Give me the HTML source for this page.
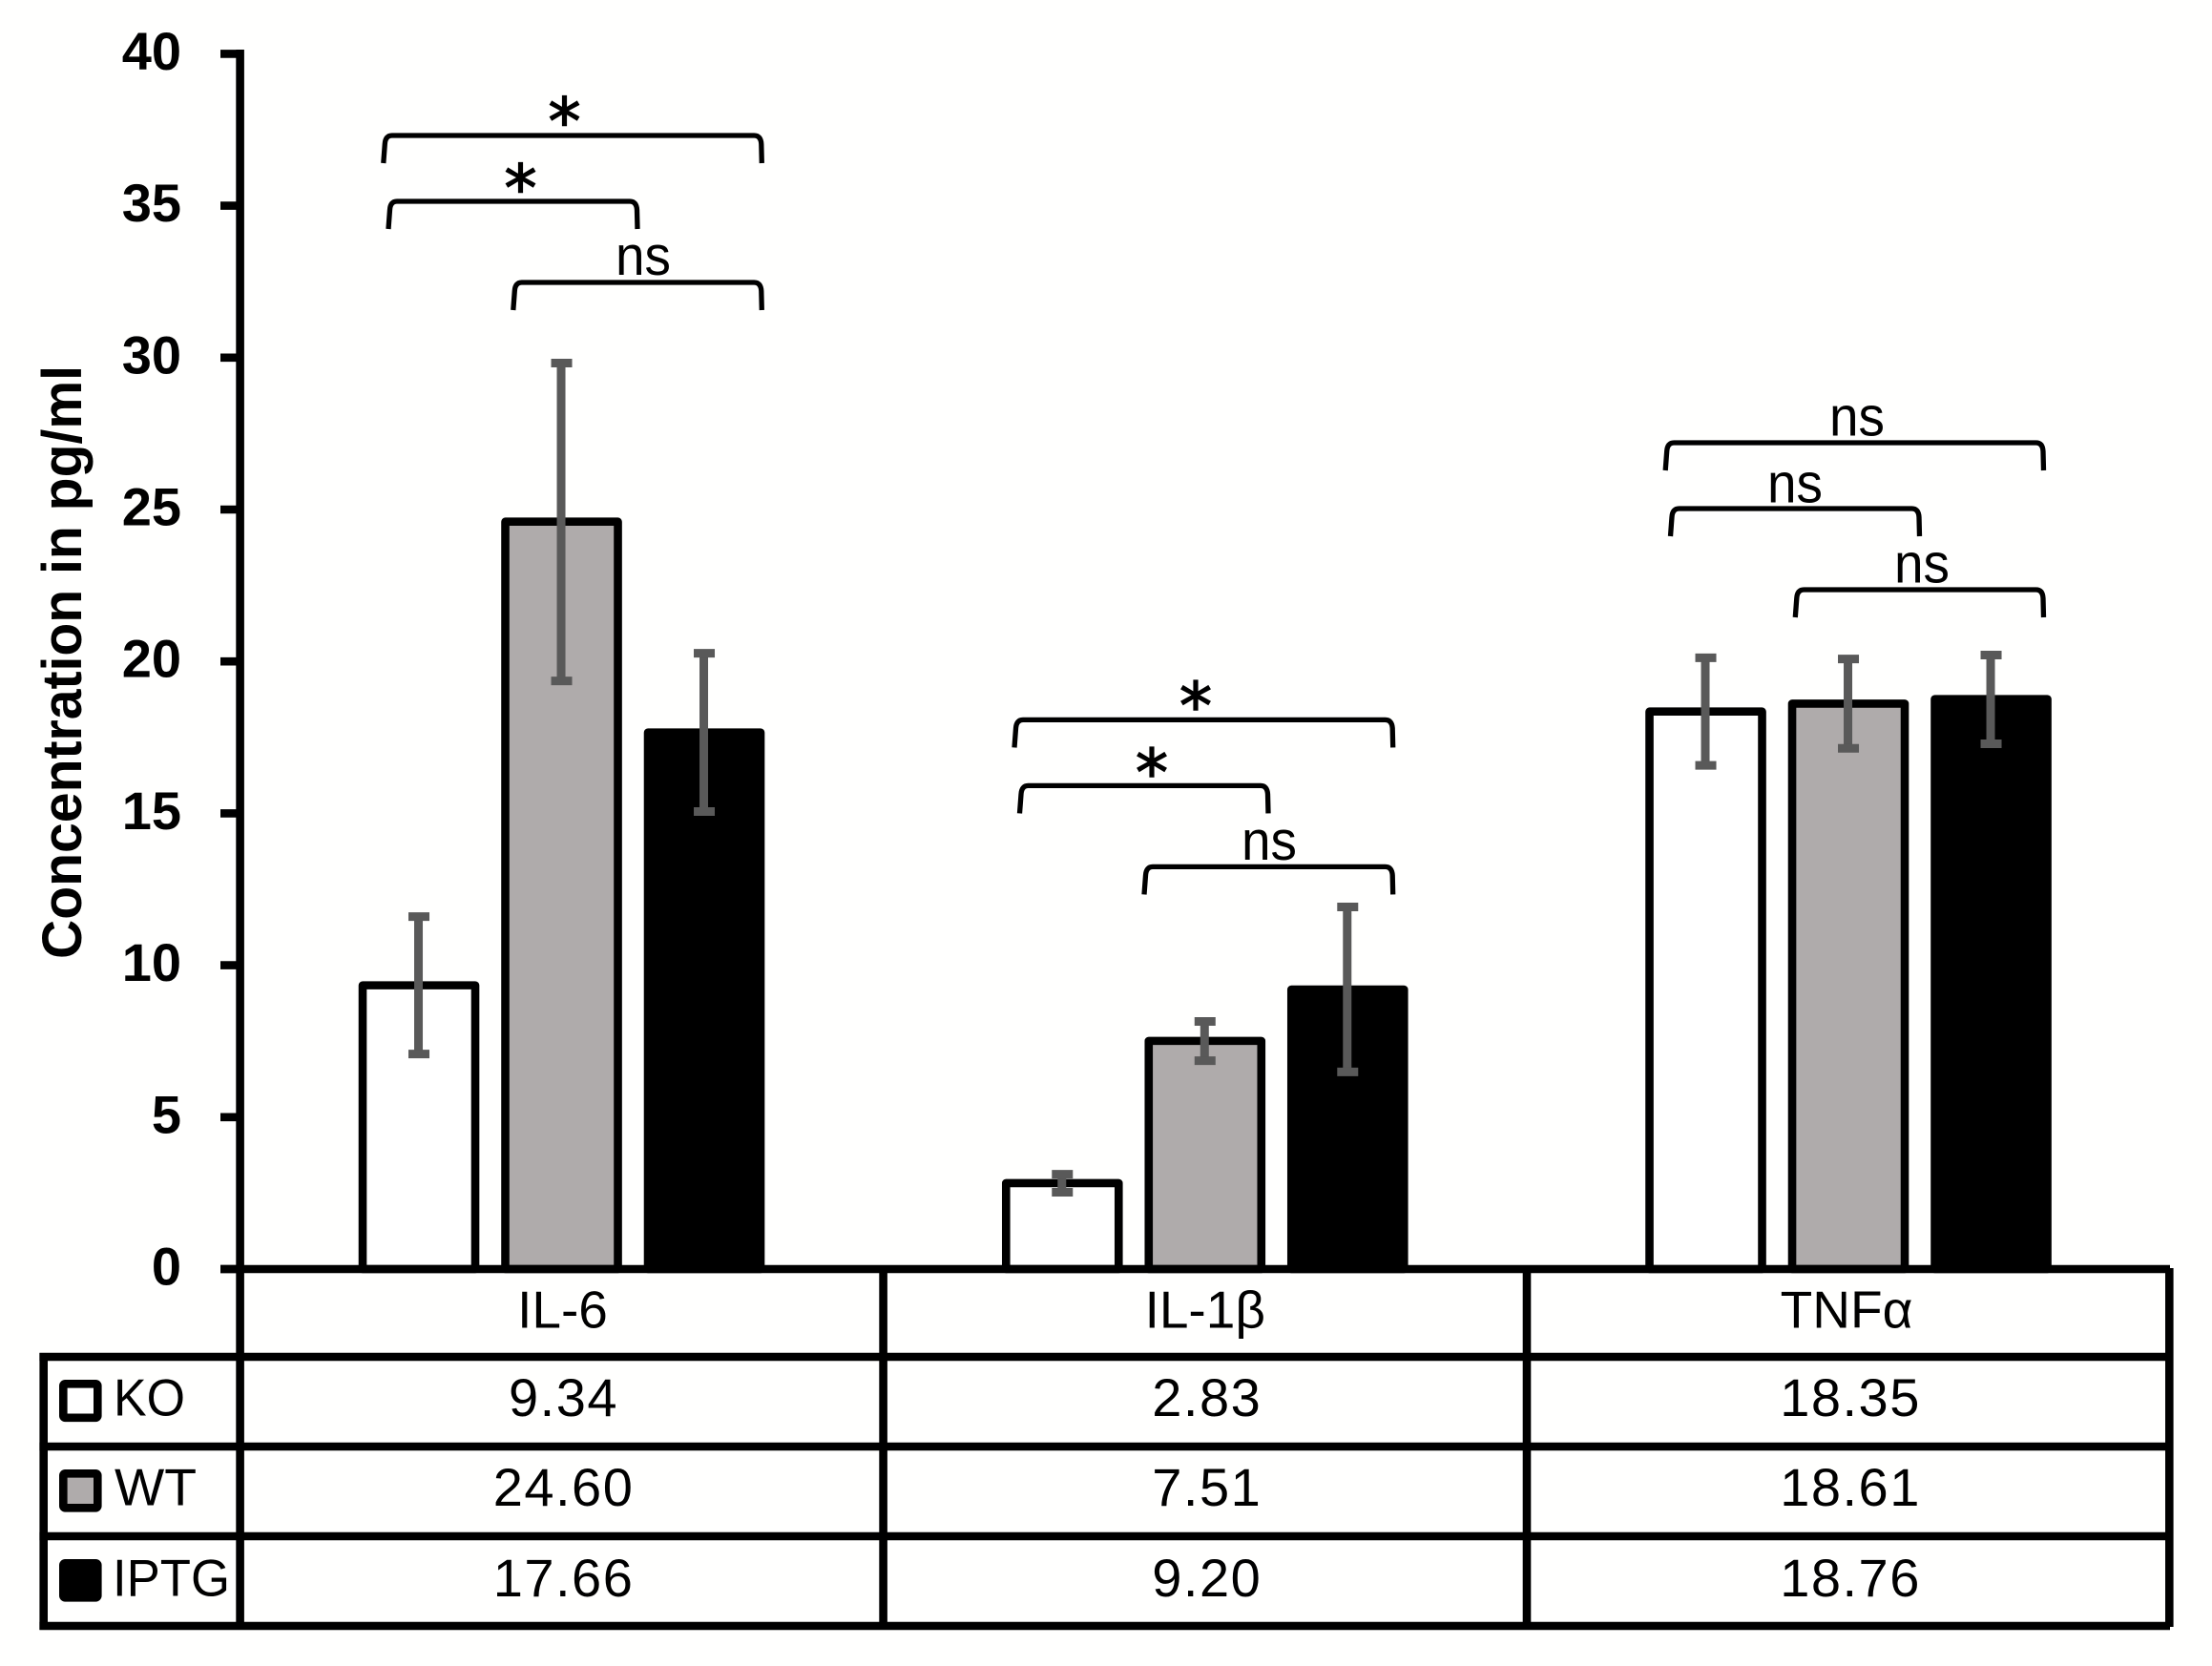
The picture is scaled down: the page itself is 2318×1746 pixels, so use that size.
<!DOCTYPE html>
<html lang="en">
<head>
<meta charset="utf-8">
<title>Concentration in pg/ml</title>
<style>
html,body{margin:0;padding:0;background:#fff;}
svg{display:block;}
text{font-family:"Liberation Sans",sans-serif;fill:#000;}
</style>
</head>
<body>
<svg id="chart" xmlns="http://www.w3.org/2000/svg" width="2318" height="1746" viewBox="0 0 2318 1746">
  <rect x="0" y="0" width="2318" height="1746" fill="#fffffe"/>
  <g id="bars"></g>
  <g id="errors"></g>
  <g id="frame" stroke="#000" stroke-width="8.6" fill="none">
    <line x1="251.6" y1="52" x2="251.6" y2="1708"/>
    <line x1="231" y1="1330" x2="2274" y2="1330"/>
    <line x1="41.4" y1="1422" x2="2274" y2="1422"/>
    <line x1="41.4" y1="1516" x2="2274" y2="1516"/>
    <line x1="41.4" y1="1610" x2="2274" y2="1610"/>
    <line x1="41.4" y1="1704" x2="2274" y2="1704"/>
    <line x1="45.7" y1="1418" x2="45.7" y2="1708"/>
    <line x1="925.6" y1="1330" x2="925.6" y2="1704"/>
    <line x1="1600" y1="1330" x2="1600" y2="1704"/>
    <line x1="2273.3" y1="1329" x2="2273.3" y2="1705"/>
  </g>
  <g id="ticks"></g>
  <text transform="translate(85,694) rotate(-90)" text-anchor="middle" font-size="58" font-weight="700" textLength="622" lengthAdjust="spacingAndGlyphs">Concentration in pg/ml</text>
  <g id="legend">
    <rect x="66.3" y="1450.3" width="36" height="35.5" rx="2" fill="#fff" stroke="#000" stroke-width="8.6" stroke-linejoin="round"/>
    <rect x="66.3" y="1544.3" width="36" height="36" rx="2" fill="#AFABAB" stroke="#000" stroke-width="8.6" stroke-linejoin="round"/>
    <rect x="66.3" y="1638.3" width="36" height="36" rx="2" fill="#000" stroke="#000" stroke-width="8.6" stroke-linejoin="round"/>
    <text x="119" y="1483.5" font-size="55" textLength="75" lengthAdjust="spacingAndGlyphs">KO</text>
    <text x="120" y="1577.5" font-size="55" textLength="86" lengthAdjust="spacingAndGlyphs">WT</text>
    <text x="118" y="1672.5" font-size="55" textLength="123" lengthAdjust="spacingAndGlyphs">IPTG</text>
  </g>
  <g id="table"></g>
  <g id="brackets"></g>
</svg>
<script>
const categories = ["IL-6", "IL-1β", "TNFα"];
const koValues = [9.34, 2.83, 18.35];
const wtValues = [24.60, 7.51, 18.61];
const iptgValues = [17.66, 9.20, 18.76];
const koErrHigh = [11.60, 3.12, 20.12];
const koErrLow = [7.08, 2.53, 16.58];
const wtErrHigh = [29.82, 8.15, 20.08];
const wtErrLow = [19.36, 6.86, 17.14];
const iptgErrHigh = [20.27, 11.92, 20.21];
const iptgErrLow = [15.06, 6.49, 17.29];
const yTicks = [0, 5, 10, 15, 20, 25, 30, 35, 40];

const NS = "http://www.w3.org/2000/svg";
const yZero = 1330;
const yUnit = 31.84;
const plotLeft = 251.4;
const band = 674.25;
const barPitch = 149.5;
const barWidth = 118;

function yScale(v) { return yZero - v * yUnit; }
function xScale(catIndex, seriesIndex) { return plotLeft + (catIndex + 0.5) * band + (seriesIndex - 1) * barPitch; }
function makeEl(tag, attrs, parent) {
  const el = document.createElementNS(NS, tag);
  for (const k in attrs) el.setAttribute(k, attrs[k]);
  parent.appendChild(el);
  return el;
}

const seriesList = [
  { key: "ko", fill: "#ffffff", vals: koValues, hi: koErrHigh, lo: koErrLow },
  { key: "wt", fill: "#AFABAB", vals: wtValues, hi: wtErrHigh, lo: wtErrLow },
  { key: "iptg", fill: "#000000", vals: iptgValues, hi: iptgErrHigh, lo: iptgErrLow }
];

const barsLayer = document.getElementById("bars");
const errLayer = document.getElementById("errors");
const errColor = "#595959";

seriesList.forEach(function (s, si) {
  categories.forEach(function (cat, ci) {
    const cx = xScale(ci, si);
    const top = yScale(s.vals[ci]);
    const bar = makeEl("rect", { x: cx - barWidth / 2, y: top, width: barWidth, height: yZero - top, fill: s.fill, stroke: "#000", "stroke-width": 8.6, "stroke-linejoin": "round" }, barsLayer);
    
    

    const yHi = yScale(s.hi[ci]);
    const yLo = yScale(s.lo[ci]);
    const stem = makeEl("line", { x1: cx - 0.5, x2: cx - 0.5, y1: yHi, y2: yLo, stroke: errColor, "stroke-width": 9 }, errLayer);
    
    
    const capHi = makeEl("line", { x1: cx - 11, x2: cx + 11, y1: yHi, y2: yHi, stroke: errColor, "stroke-width": 9 }, errLayer);
    
    
    const capLo = makeEl("line", { x1: cx - 11, x2: cx + 11, y1: yLo, y2: yLo, stroke: errColor, "stroke-width": 9 }, errLayer);
    
    
  });
});

const tickLayer = document.getElementById("ticks");
yTicks.forEach(function (t) {
  const y = yScale(t);
  const mark = makeEl("line", { x1: 231, x2: 252, y1: y, y2: y, stroke: "#000", "stroke-width": 8.6 }, tickLayer);
  
  
  const label = makeEl("text", { x: 190, y: y + 16.5, "text-anchor": "end", "font-size": 56, "font-weight": 700 }, tickLayer);
  label.textContent = String(t);
  
  
});

const tableLayer = document.getElementById("table");
const rowBaselines = [1484, 1578, 1673];
categories.forEach(function (cat, ci) {
  const cx = xScale(ci, 1);
  const headNudge = ci === 2 ? -2 : (ci === 1 ? 0 : 1);
  const head = makeEl("text", { x: cx + headNudge, y: 1391.5, "text-anchor": "middle", "font-size": 55 }, tableLayer);
  head.textContent = cat;
  
  
  seriesList.forEach(function (s, si) {
    const cell = makeEl("text", { x: cx + 2, y: rowBaselines[si], "text-anchor": "middle", "font-size": 56, "letter-spacing": 1.5 }, tableLayer);
    cell.textContent = s.vals[ci].toFixed(2);
    
    
  });
});

const bracketLayer = document.getElementById("brackets");
function drawBracket(name, x1, x2, top, label, labelX, labelBaseline) {
  const bot = top + 29;
  const d = "M" + x1 + " " + bot + " L" + (x1 + 1.5) + " " + (top + 9) +
    " Q" + (x1 + 2) + " " + top + " " + (x1 + 9) + " " + top +
    " L" + (x2 - 8) + " " + top +
    " Q" + (x2 - 1) + " " + top + " " + (x2 - 0.5) + " " + (top + 9) +
    " L" + x2 + " " + bot;
  const path = makeEl("path", { d: d, fill: "none", stroke: "#000", "stroke-width": 5.3 }, bracketLayer);
  
  
  const isStar = label === "*";
  const attrs = { x: labelX, y: labelBaseline, "text-anchor": "middle" };
  if (isStar) {
    attrs["font-size"] = 68;
    attrs["stroke"] = "#000";
    attrs["stroke-width"] = 1.4;
    attrs["style"] = 'font-family:"DejaVu Sans","Liberation Sans",sans-serif';
  } else {
    attrs["font-size"] = 58;
    attrs["textLength"] = 58;
    attrs["lengthAdjust"] = "spacingAndGlyphs";
  }
  const t = makeEl("text", attrs, bracketLayer);
  t.textContent = label;
  
  
}

drawBracket("il6-ko-iptg", 401.8, 798.3, 142, "*", 591.5, 151);
drawBracket("il6-ko-wt", 407, 668, 211, "*", 545.5, 221);
drawBracket("il6-wt-iptg", 537.8, 798.3, 296, "ns", 674, 287.8);
drawBracket("il1b-ko-iptg", 1063, 1459.7, 754.4, "*", 1253, 763.5);
drawBracket("il1b-ko-wt", 1068.5, 1329, 823.4, "*", 1207, 833.5);
drawBracket("il1b-wt-iptg", 1199, 1459.7, 908.4, "ns", 1330, 901);
drawBracket("tnf-ko-iptg", 1745.2, 2141.5, 464, "ns", 1946, 456.5);
drawBracket("tnf-ko-wt", 1750.5, 2011.5, 533, "ns", 1881, 526.5);
drawBracket("tnf-wt-iptg", 1881.3, 2141.5, 618, "ns", 2014, 610.5);
</script>
</body>
</html>
